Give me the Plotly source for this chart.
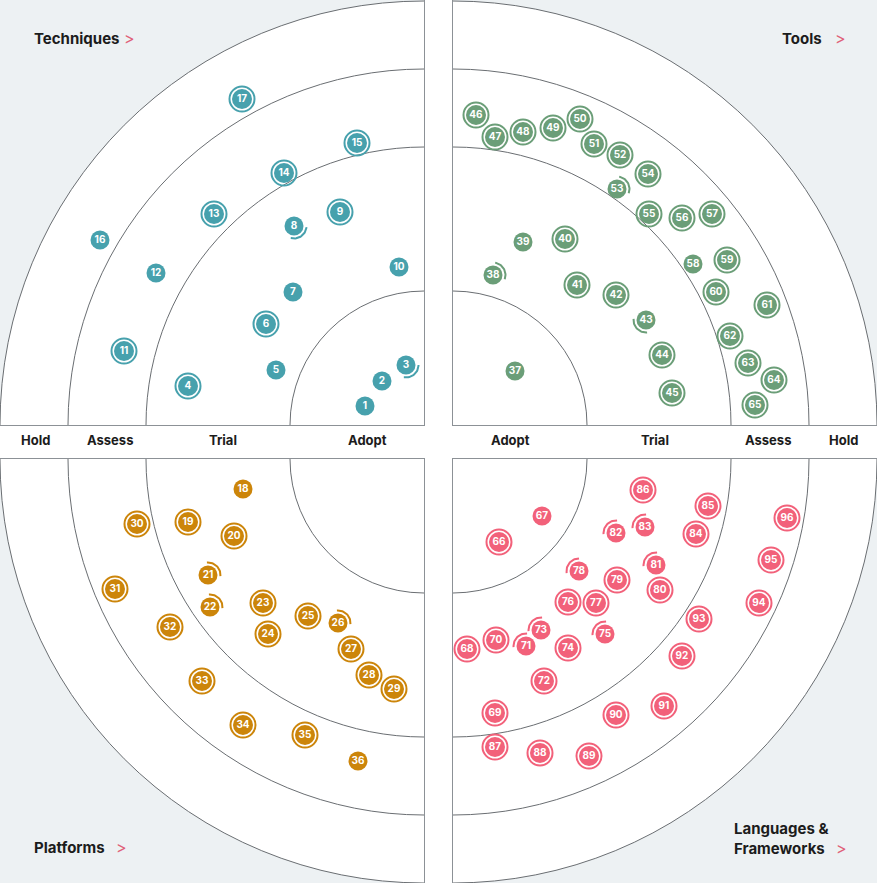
import numpy as np
import plotly.graph_objects as go

W, H = 878, 885

ring_names = ["Adopt", "Trial", "Assess", "Hold"]
ring_radii = [134, 278, 356, 424]

# blips: number, horizontal / vertical distance from the radar centre, status
tech_ids = list(range(1, 18))
tech_dx = [59, 42, 18, 236, 148, 158, 131, 130, 84, 25, 300, 268, 210, 140, 67, 324, 182]
tech_dy = [19, 44, 60, 39, 55, 101, 133, 199, 213, 158, 74, 152, 211, 252, 282, 185, 326]
tech_kind = ["same", "same", "moved", "new", "same", "new", "same", "moved", "new",
             "same", "new", "same", "new", "new", "new", "same", "new"]

tools_ids = list(range(37, 66))
tools_dx = [62, 40, 70, 112, 124, 163, 193, 209, 219, 23, 42, 70, 100, 127, 141, 167,
            164, 195, 196, 229, 259, 240, 274, 263, 314, 277, 295, 321, 302]
tools_dy = [54, 150, 183, 186, 140, 130, 105, 70, 32, 310, 288, 293, 297, 306, 281, 270,
            236, 251, 211, 207, 211, 161, 165, 133, 120, 89, 62, 45, 20]
tools_kind = ["same", "moved", "same", "new", "new", "new", "moved", "new", "new", "new",
              "new", "new", "new", "new", "new", "new", "moved", "new", "new", "new",
              "new", "same", "new", "new", "new", "new", "new", "new", "new"]

plat_ids = list(range(18, 37))
plat_dx = [181, 236, 190, 216, 214, 161, 156, 116, 86, 73, 55, 30, 287, 309, 254, 222, 181, 119, 66]
plat_dy = [30, 63, 77, 116, 148, 144, 175, 157, 164, 190, 216, 230, 65, 130, 168, 222, 266, 276, 302]
plat_kind = ["same", "new", "new", "moved", "moved", "new", "new", "new", "moved", "new",
             "new", "new", "new", "new", "new", "new", "new", "new", "same"]

lang_ids = list(range(66, 97))
lang_dx = [46, 89, 14, 42, 43, 73, 91, 88, 115, 152, 115, 143, 126, 164, 207, 203, 163,
           192, 243, 255, 190, 42, 87, 136, 163, 211, 229, 246, 306, 318, 334]
lang_dy = [83, 57, 190, 254, 181, 187, 222, 171, 189, 175, 143, 144, 112, 121, 131, 106,
           74, 68, 75, 47, 31, 288, 294, 297, 256, 247, 197, 160, 144, 101, 59]
lang_kind = ["new", "same", "new", "new", "new", "moved", "new", "moved", "new", "moved",
             "new", "new", "moved", "new", "new", "moved", "moved", "moved", "new", "new",
             "new", "new", "new", "new", "new", "new", "new", "new", "new", "new", "new"]

# direction (degrees) the arc of a moved blip faces
arc_dir = {3: -50, 8: -55, 21: 45, 22: 45, 26: 45, 38: 30, 43: 225, 53: 30,
           71: 135, 73: 135, 75: 135, 78: 140, 81: 135, 82: 135, 83: 135}

quads = [
    dict(name="Techniques", color="#47a1ad", ids=tech_ids, dx=tech_dx, dy=tech_dy,
         kind=tech_kind, sx=-1, sy=1, n=""),
    dict(name="Tools", color="#6b9e78", ids=tools_ids, dx=tools_dx, dy=tools_dy,
         kind=tools_kind, sx=1, sy=1, n="2"),
    dict(name="Platforms", color="#cc850a", ids=plat_ids, dx=plat_dx, dy=plat_dy,
         kind=plat_kind, sx=-1, sy=-1, n="3"),
    dict(name="Languages &amp;<br>Frameworks", color="#f2617a", ids=lang_ids, dx=lang_dx,
         dy=lang_dy, kind=lang_kind, sx=1, sy=-1, n="4"),
]

fig = go.Figure()
shapes = []
for q in quads:
    xa, ya = "x" + q["n"], "y" + q["n"]
    x = np.array(q["dx"]) * q["sx"]
    y = np.array(q["dy"]) * q["sy"]
    kind = np.array(q["kind"])
    ids = np.array(q["ids"])
    c = q["color"]

    # rings
    for i, r in enumerate(ring_radii[::-1]):
        shapes.append(dict(type="circle", xref=xa, yref=ya, x0=-r, x1=r, y0=-r, y1=r,
                           layer="below", line=dict(color="#6a6e72", width=1),
                           fillcolor="white" if i == 0 else "rgba(0,0,0,0)"))

    new = kind == "new"
    fig.add_trace(go.Scatter(
        x=x[new], y=y[new], xaxis=xa, yaxis=ya, mode="markers", hoverinfo="skip",
        marker=dict(symbol="circle-open", size=25, color=c, opacity=1,
                    line=dict(width=2, color=c)),
    ))

    # arcs for moved blips
    ax_, ay_ = [], []
    for bx, by, b in zip(x[kind == "moved"], y[kind == "moved"], ids[kind == "moved"]):
        t = np.radians(np.linspace(arc_dir[b] - 50, arc_dir[b] + 50, 25))
        ax_ += list(bx + 12.5 * np.cos(t)) + [None]
        ay_ += list(by + 12.5 * np.sin(t)) + [None]
    fig.add_trace(go.Scatter(
        x=ax_, y=ay_, xaxis=xa, yaxis=ya, mode="lines", hoverinfo="skip",
        line=dict(color=c, width=2),
    ))

    fig.add_trace(go.Scatter(
        x=x, y=y, xaxis=xa, yaxis=ya, mode="markers+text", hoverinfo="skip",
        text=[str(i) for i in ids], textposition="middle center",
        textfont=dict(family="Inter", size=10, color="white", weight=700),
        marker=dict(size=np.where(new, 20, 19), color=c, opacity=1, line=dict(width=0)),
    ))

axis = dict(showgrid=False, zeroline=False, showticklabels=False, ticks="",
            showline=True, linecolor="#8c9196", linewidth=1, fixedrange=True)
left = [0, 424 / W]
right = [453 / W, 877 / W]
top = [1 - 425 / H, 1]
bottom = [1 - 883 / H, 1 - 459 / H]

fig.update_layout(
    xaxis=dict(axis, domain=left, range=[-424, 0], anchor="y", side="bottom"),
    yaxis=dict(axis, domain=top, range=[0, 425], anchor="x", side="right"),
    xaxis2=dict(axis, domain=right, range=[0, 424], anchor="y2", side="bottom"),
    yaxis2=dict(axis, domain=top, range=[0, 425], anchor="x2", side="left"),
    xaxis3=dict(axis, domain=left, range=[-424, 0], anchor="y3", side="top"),
    yaxis3=dict(axis, domain=bottom, range=[-424, 0], anchor="x3", side="right"),
    xaxis4=dict(axis, domain=right, range=[0, 424], anchor="y4", side="top"),
    yaxis4=dict(axis, domain=bottom, range=[-424, 0], anchor="x4", side="left"),
)

annotations = []
# ring names between the upper and lower halves
ring_label_x = [367, 223, 110, 35]
ring_label_x_right = [510, 655, 768, 843]
for name, xl, xr in zip(ring_names, ring_label_x, ring_label_x_right):
    for xp in (xl, xr):
        annotations.append(dict(text=name, x=xp / W, y=1 - 440 / H, xref="paper", yref="paper",
                                showarrow=False, xanchor="center", yanchor="middle",
                                font=dict(family="Inter", size=13, color="#1c1c1c", weight=700)))

title_font = dict(family="Inter", size=15, color="#1c1c1c", weight=700)
chev_font = dict(family="Inter", size=16, color="#e0607a", weight=400)


def title(text, xp, yp, anchor="left"):
    annotations.append(dict(text=text, x=xp / W, y=1 - yp / H, xref="paper", yref="paper",
                            showarrow=False, xanchor=anchor, yanchor="middle", align="left",
                            font=title_font, borderpad=0))


def chevron(xp, yp):
    annotations.append(dict(text=">", x=xp / W, y=1 - yp / H, xref="paper", yref="paper",
                            showarrow=False, xanchor="center", yanchor="middle", font=chev_font,
                            borderpad=0))


title(quads[0]["name"], 33, 38)
chevron(129, 38)
title(quads[1]["name"], 823, 38, "right")
chevron(840, 38)
title(quads[2]["name"], 33, 847)
chevron(121, 847)
title(quads[3]["name"], 733, 838.5)
chevron(841, 848)

fig.update_layout(
    width=W, height=H, margin=dict(l=0, r=0, t=0, b=0),
    paper_bgcolor="white", plot_bgcolor="#edf1f3",
    showlegend=False, shapes=shapes, annotations=annotations,
)

fig.write_html("out.html", config={"displayModeBar": False},
               post_script="document.body.style.margin = '0';")
